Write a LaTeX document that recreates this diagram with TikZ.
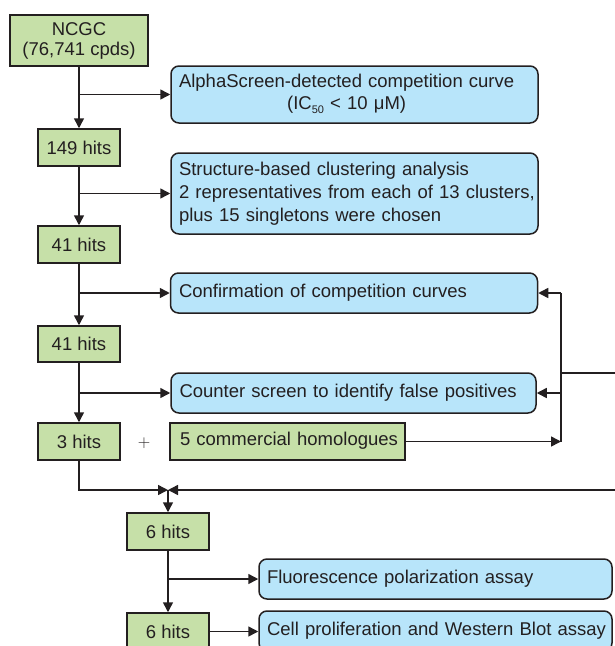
\documentclass[tikz,border=0pt]{standalone}
\usepackage{fontspec}
\setmainfont{Liberation Sans}
\usetikzlibrary{arrows.meta}
\definecolor{ink}{HTML}{231F20}
\definecolor{gfill}{HTML}{C6E0A8}
\definecolor{bfill}{HTML}{B8E5FA}
\newcommand{\lblock}[1]{\begin{tabular}{@{}l@{}}#1\end{tabular}}
\newcommand{\cblock}[1]{\begin{tabular}{@{}c@{}}#1\end{tabular}}
\tikzset{
  base/.style={draw=ink, line width=1.5pt, inner sep=0pt, text=ink,
    font=\fontsize{18.5}{22}\selectfont},
  gbox/.style={base, fill=gfill, align=center},
  bbox/.style={base, fill=bfill, rounded corners=8pt, align=left, inner xsep=8pt},
  arr/.style={draw=ink, line width=1.5pt, -{Triangle[length=10pt,width=10pt]}},
  ln/.style={draw=ink, line width=1.5pt},
}
\begin{document}
\begin{tikzpicture}[x=1pt,y=-1pt]
\useasboundingbox (0,0) rectangle (615,646);
\clip (0,0) rectangle (615,646);

\node[gbox, minimum width=138pt, minimum height=51pt, font=\fontsize{18.5}{20}\selectfont] (ncgc) at (79,40.5) {NCGC\\(76,741 cpds)};
\node[bbox, minimum width=367pt, minimum height=57pt, text width=351pt] (alpha) at (354.5,94.5)
  {\cblock{AlphaScreen-detected competition curve\\(IC{\fontsize{11}{11}\selectfont\raisebox{-4pt}{50}} < 10 μM)}};
\node[gbox, minimum width=82pt, minimum height=37pt] (h149) at (79,147.5) {149 hits};
\node[bbox, minimum width=367pt, minimum height=81pt, text width=351pt, font=\fontsize{18.5}{23}\selectfont] (struct) at (354.5,193.5)
  {\lblock{Structure-based clustering analysis\\2 representatives from each of 13 clusters,\\plus 15 singletons were chosen}};
\node[gbox, minimum width=82pt, minimum height=37pt] (h41a) at (79,244.5) {41 hits};
\node[bbox, minimum width=366pt, minimum height=40pt, text width=350pt, inner xsep=8.5pt] (conf) at (354,293) {\lblock{Confirmation of competition curves}};
\node[gbox, minimum width=82pt, minimum height=36pt] (h41b) at (79,344) {41 hits};
\node[bbox, minimum width=365pt, minimum height=40pt, text width=348pt, inner xsep=8.5pt] (counter) at (353.5,393) {\lblock{Counter screen to identify false positives}};
\node[gbox, minimum width=82pt, minimum height=37pt] (h3) at (79,441.5) {3 hits};
\node[text=ink, font=\fontsize{18.5}{22}\selectfont, inner sep=0pt] (plus) at (144,443) {$+$};
\node[gbox, minimum width=235pt, minimum height=37pt, text width=215pt, align=left, inner xsep=10pt] (comm) at (287.5,441.5) {\lblock{5 commercial homologues}};
\node[gbox, minimum width=82pt, minimum height=37pt] (h6a) at (168,531.5) {6 hits};
\node[bbox, minimum width=353pt, minimum height=40pt, text width=337pt] (fluor) at (435.5,579) {\lblock{Fluorescence polarization assay}};
\node[gbox, minimum width=82pt, minimum height=37pt] (h6b) at (168,631.5) {6 hits};
\node[bbox, minimum width=353pt, minimum height=40pt, text width=337pt] (cell) at (435.5,631) {\lblock{Cell proliferation and Western Blot assay}};

% junction coordinates
\coordinate (j1) at (79,94.5);
\coordinate (j2) at (79,193.5);
\coordinate (j3) at (79,293);
\coordinate (j4) at (79,393);
\coordinate (r1) at (561,441.5);
\coordinate (r2) at (561,293);
\coordinate (r3) at (561,393);
\coordinate (r4) at (561,373);
\coordinate (e1) at (620,373);
\coordinate (c3) at (79,490);
\coordinate (m) at (168,490);
\coordinate (e2) at (620,490);
\coordinate (j5) at (168,579);

\draw[arr] (ncgc.south) -- (h149.north);
\draw[arr] (j1) -- (alpha.west);
\draw[arr] (h149.south) -- (h41a.north);
\draw[arr] (j2) -- (struct.west);
\draw[arr] (h41a.south) -- (h41b.north);
\draw[arr] (j3) -- (conf.west);
\draw[arr] (h41b.south) -- (h3.north);
\draw[arr] (j4) -- (counter.west);

\draw[arr] (comm.east) -- (r1);
\draw[ln] (r1) -- (r2);
\draw[arr] (r2) -- (conf.east);
\draw[arr] (r3) -- (counter.east);
\draw[ln] (r4) -- (e1);

\draw[arr] (h3.south) -- (c3) -- (m);
\draw[arr] (e2) -- (m);
\draw[arr] (m) -- (h6a.north);
\draw[arr] (h6a.south) -- (h6b.north);
\draw[arr] (j5) -- (fluor.west);
\draw[arr] (h6b.east) -- (h6b.east -| cell.west);
\end{tikzpicture}
\end{document}
